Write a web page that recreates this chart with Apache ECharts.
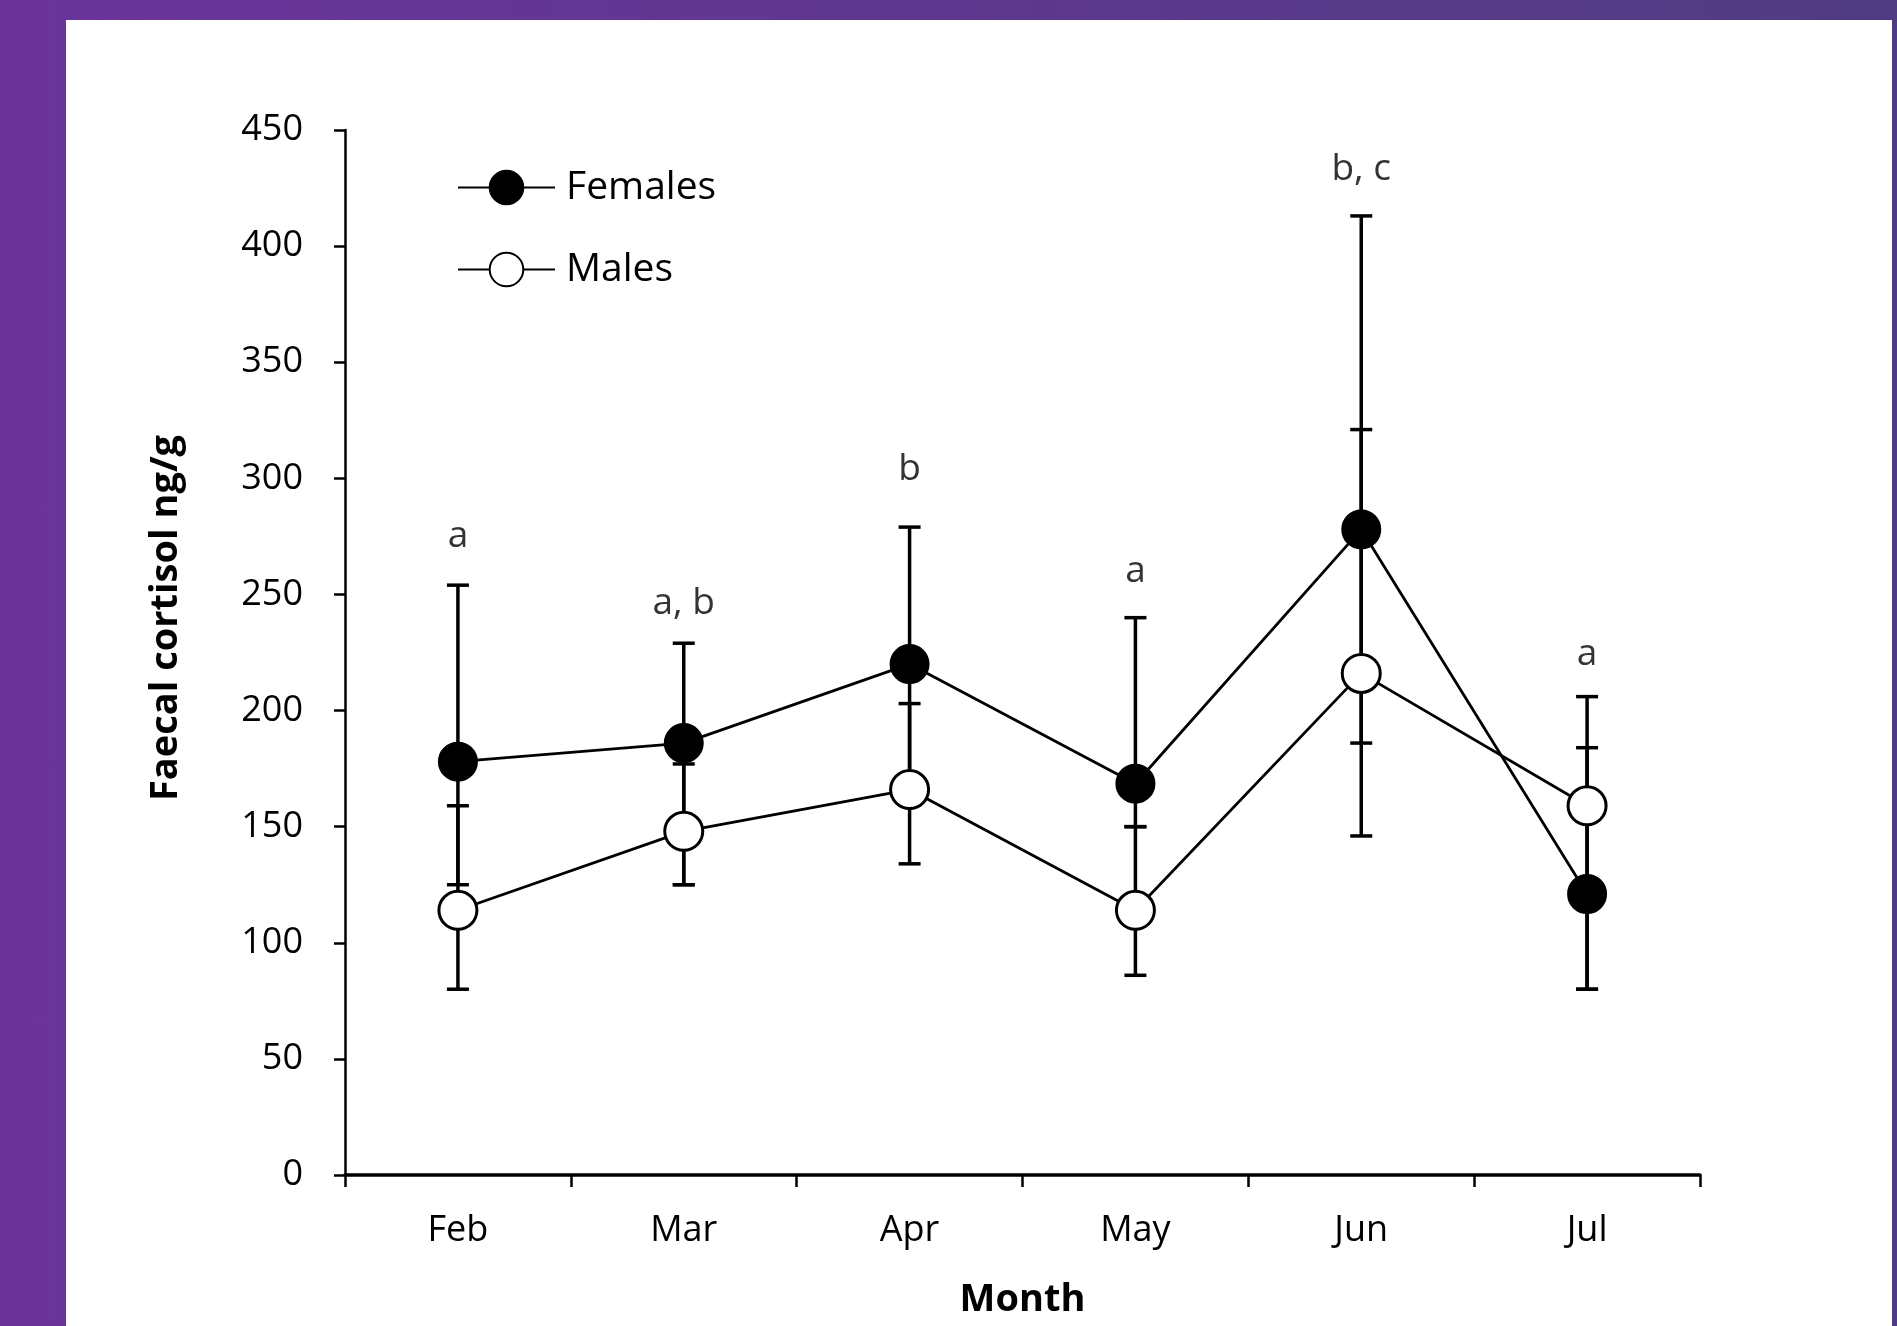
<!DOCTYPE html>
<html>
<head>
<meta charset="utf-8">
<script src="https://cdn.jsdelivr.net/npm/echarts@6/dist/echarts.min.js"></script>
<style>
  html, body { margin: 0; padding: 0; width: 1897px; height: 1326px; overflow: hidden; }
  body { background: linear-gradient(to right, #6b349b, #503c82); position: relative; }
  #panel { position: absolute; left: 66px; top: 20px; width: 1826px; height: 1306px; background: #ffffff; }
  #chart { position: absolute; left: 0; top: 0; width: 1897px; height: 1326px; }
</style>
</head>
<body>
<div id="panel"></div>
<div id="chart"></div>
<script>
const months = ['Feb', 'Mar', 'Apr', 'May', 'Jun', 'Jul'];
const yTicks = [0, 50, 100, 150, 200, 250, 300, 350, 400, 450];
const females = [178, 186, 220, 168.5, 278, 121];
const femalesHigh = [254, 229, 279, 240, 413, 184];
const femalesLow = [125, 125, 172, 150, 146, 80];
const males = [114, 148, 166, 114, 216, 159];
const malesHigh = [159, 177, 203, 150, 321, 206];
const malesLow = [80, 125, 134, 86, 186, 80];
const letters = ['a', 'a, b', 'b', 'a', 'b, c', 'a'];
const letterPos = [275, 246, 304, 260, 433, 224];

const FONT = 'Open Sans';
const chart = echarts.init(document.getElementById('chart'), null, { renderer: 'canvas' });

function errData(lo, hi) {
  return months.map((m, i) => [i, lo[i], hi[i]]);
}

function renderErr(params, api) {
  const x = api.value(0), lo = api.value(1), hi = api.value(2);
  const pLo = api.coord([x, lo]);
  const pHi = api.coord([x, hi]);
  const hw = 11;
  const st = { stroke: '#000', lineWidth: 3.5 };
  return {
    type: 'group',
    children: [
      { type: 'line', shape: { x1: pLo[0], y1: pLo[1], x2: pHi[0], y2: pHi[1] }, style: st },
      { type: 'line', shape: { x1: pLo[0] - hw, y1: pLo[1], x2: pLo[0] + hw, y2: pLo[1] }, style: st },
      { type: 'line', shape: { x1: pHi[0] - hw, y1: pHi[1], x2: pHi[0] + hw, y2: pHi[1] }, style: st }
    ]
  };
}

const option = {
  backgroundColor: 'transparent',
  animation: false,
  grid: { left: 345, right: 197, top: 130, bottom: 151, containLabel: false },
  legend: {
    orient: 'vertical',
    left: 452,
    top: 163,
    itemWidth: 97,
    itemHeight: 42,
    itemGap: 43,
    data: ['Females', 'Males'],
    textStyle: { fontFamily: FONT, fontSize: 39, color: '#000', padding: [0, 0, 0, 6] }
  },
  xAxis: {
    type: 'category',
    data: months,
    boundaryGap: true,
    axisLine: { lineStyle: { color: '#000', width: 3.5 } },
    axisTick: { show: true, inside: false, length: 12, lineStyle: { color: '#000', width: 2.5 } },
    axisLabel: { color: '#000', fontFamily: FONT, fontSize: 36, margin: 38 },
    splitLine: { show: false },
    name: 'Month',
    nameLocation: 'middle',
    nameGap: 106,
    nameTextStyle: { color: '#000', fontFamily: FONT, fontSize: 38, fontWeight: 'bold' }
  },
  yAxis: {
    type: 'value',
    min: yTicks[0],
    max: yTicks[yTicks.length - 1],
    interval: yTicks[1] - yTicks[0],
    axisLine: { show: true, lineStyle: { color: '#000', width: 2.5 } },
    axisTick: { show: true, inside: false, length: 11, lineStyle: { color: '#000', width: 2.5 } },
    axisLabel: { color: '#000', fontFamily: FONT, fontSize: 36, margin: 42 },
    splitLine: { show: false }
  },
  graphic: [{
    type: 'text',
    x: 166,
    y: 618,
    rotation: Math.PI / 2,
    style: {
      text: 'Faecal cortisol ng/g',
      fontFamily: FONT,
      fontSize: 38,
      fontWeight: 'bold',
      fill: '#000',
      textAlign: 'center',
      textVerticalAlign: 'middle'
    }
  }],
  series: [
    {
      type: 'custom',
      name: 'errF',
      renderItem: renderErr,
      encode: { x: 0, y: [1, 2] },
      data: errData(femalesLow, femalesHigh),
      z: 2,
      silent: true
    },
    {
      type: 'custom',
      name: 'errM',
      renderItem: renderErr,
      encode: { x: 0, y: [1, 2] },
      data: errData(malesLow, malesHigh),
      z: 2,
      silent: true
    },
    {
      type: 'line',
      name: 'Females',
      data: females,
      symbol: 'circle',
      symbolSize: 38,
      lineStyle: { color: '#000', width: 2.8 },
      itemStyle: { color: '#000', borderColor: '#000', borderWidth: 2 },
      z: 4
    },
    {
      type: 'line',
      name: 'Males',
      data: males,
      symbol: 'circle',
      symbolSize: 38,
      lineStyle: { color: '#000', width: 2.8 },
      itemStyle: { color: '#fff', borderColor: '#000', borderWidth: 3 },
      z: 4
    },
    {
      type: 'scatter',
      name: 'letters',
      data: months.map((m, i) => [i, letterPos[i]]),
      symbolSize: 0,
      silent: true,
      label: {
        show: true,
        position: 'inside',
        formatter: p => letters[p.dataIndex],
        color: '#000',
        fontFamily: FONT,
        fontSize: 37
      },
      z: 5
    }
  ]
};
chart.setOption(option);
</script>
</body>
</html>
